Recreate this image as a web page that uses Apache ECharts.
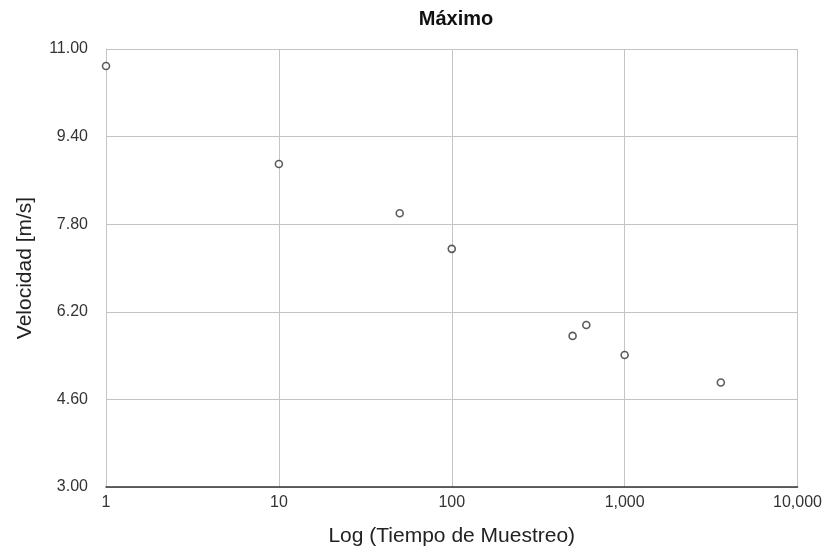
<!DOCTYPE html>
<html>
<head>
<meta charset="utf-8">
<title>Máximo</title>
<script src="https://cdn.jsdelivr.net/npm/echarts@6/dist/echarts.min.js"></script>
<style>
  html, body { margin: 0; padding: 0; background: #fff; }
  #chart { width: 825px; height: 553px; }
</style>
</head>
<body>
<div id="chart"></div>
<script>
// Sampling time (s) and maximum velocity (m/s)
const tiempoMuestreo = [1, 10, 50, 100, 500, 600, 1000, 3600];
const velocidadMax = [10.69, 8.90, 8.00, 7.35, 5.76, 5.96, 5.41, 4.91];

const yMin = 3.0;
const yMax = 11.0;
const yStep = 1.6;

const font = '"Liberation Sans", Arial, Helvetica, sans-serif';

const chart = echarts.init(document.getElementById('chart'));
chart.setOption({
  animation: false,
  backgroundColor: '#ffffff',
  title: {
    text: 'Máximo',
    left: 451,
    textAlign: 'center',
    top: 4,
    textStyle: { fontFamily: font, fontSize: 20, fontWeight: 'bold', color: '#111' }
  },
  grid: { left: 106, right: 27, top: 49, bottom: 66 },
  xAxis: {
    type: 'log',
    logBase: 10,
    min: 1,
    max: 10000,
    name: 'Log (Tiempo de Muestreo)',
    nameLocation: 'middle',
    nameGap: 39,
    nameTextStyle: { fontFamily: font, fontSize: 21, color: '#222' },
    axisLine: { lineStyle: { color: '#333', width: 1.5 } },
    axisTick: { show: false },
    minorTick: { show: false },
    axisLabel: {
      margin: 8,
      fontFamily: font, fontSize: 16, color: '#333',
      formatter: v => Number(v).toLocaleString('en-US')
    },
    splitLine: { show: true, lineStyle: { color: '#c4c4c4', width: 1 } }
  },
  yAxis: {
    type: 'value',
    min: yMin,
    max: yMax,
    interval: yStep,
    name: 'Velocidad [m/s]',
    nameLocation: 'middle',
    nameGap: 70,
    nameTextStyle: { fontFamily: font, fontSize: 21, color: '#222' },
    axisLine: { show: true, lineStyle: { color: '#c4c4c4', width: 1 } },
    axisTick: { show: false },
    axisLabel: {
      margin: 18,
      fontFamily: font, fontSize: 16, color: '#333',
      formatter: v => Number(v).toFixed(2)
    },
    splitLine: { show: true, lineStyle: { color: '#c4c4c4', width: 1 } }
  },
  series: [{
    type: 'scatter',
    data: tiempoMuestreo.map((t, i) => [t, velocidadMax[i]]),
    symbol: 'circle',
    symbolSize: 7,
    itemStyle: { color: '#ffffff', borderColor: '#333', borderWidth: 1.6 },
    clip: false
  }]
});
</script>
</body>
</html>
